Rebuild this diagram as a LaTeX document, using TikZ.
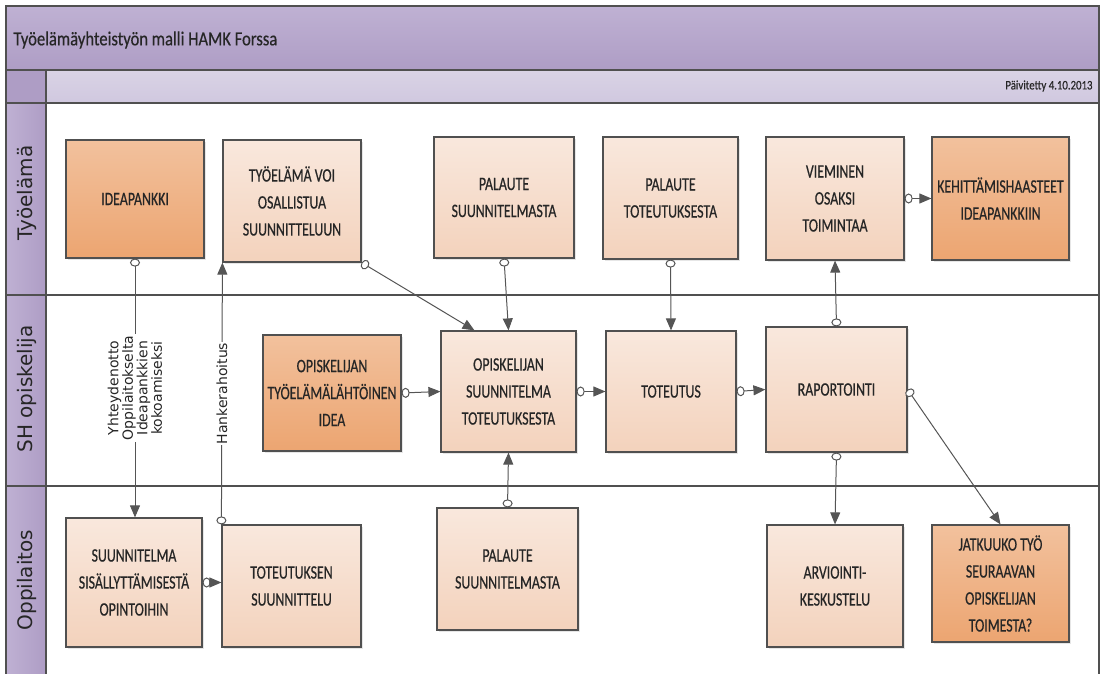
\documentclass[tikz,border=0pt]{standalone}
\usepackage{fontspec}
\setmainfont{Carlito}
\newfontfamily\laatikkofont{Carlito}[FakeStretch=0.73,FakeBold=0.5]
\newfontfamily\otsikkofont{Carlito}[FakeStretch=0.83,FakeBold=0.4]
\newfontfamily\kaistafont{DejaVu Sans}
\usetikzlibrary{arrows.meta,shadows}

\definecolor{violetti}{HTML}{AE9DC5}
\definecolor{violettivaalea}{HTML}{BFB1D3}
\definecolor{harmaaviol}{HTML}{D0C8DF}
\definecolor{reuna}{HTML}{505050}
\definecolor{viiva}{HTML}{555555}
\definecolor{teksti}{HTML}{262626}
\definecolor{vaaleaYla}{HTML}{F9E8DD}
\definecolor{vaaleaAla}{HTML}{F3D2BC}
\definecolor{tummaYla}{HTML}{F2C19D}
\definecolor{tummaAla}{HTML}{ECA571}

\begin{document}
\begin{tikzpicture}[x=1pt,y=-1pt,
    laatikko/.style={draw=reuna, line width=1.2pt, minimum width=138pt, minimum height=122pt,
      align=center, inner sep=0pt, text=teksti,
      font=\laatikkofont\fontsize{19}{27}\selectfont,
      drop shadow={opacity=0.2, shadow xshift=2pt, shadow yshift=-2pt}},
    vaalea/.style={laatikko, top color=vaaleaYla, bottom color=vaaleaAla},
    tumma/.style={laatikko, top color=tummaYla, bottom color=tummaAla},
    nuoli/.style={draw=viiva, line width=1pt,
      {Circle[open,fill=white,length=8pt,width=10pt,line width=1pt]}-{Triangle[length=12pt,width=10pt]}},
    kaista/.style={font=\kaistafont\fontsize{20}{24}\selectfont, rotate=90, text=teksti},
    selite/.style={font=\kaistafont\fontsize{14}{14.5}\selectfont, rotate=90,
      fill=white, align=center, inner sep=1pt, text=teksti}
  ]
  \useasboundingbox (0,0) rectangle (1103,674);

  % === Otsikko ja kaistat ===
  \shade[top color=violettivaalea, bottom color=violetti] (6,6) rectangle (1099,70);
  \fill[violetti] (6,70) rectangle (46,103);
  \shade[top color=harmaaviol!80!white, bottom color=harmaaviol] (46,70) rectangle (1099,103);
  \shade[left color=violettivaalea, right color=violetti] (6,103) rectangle (46,674);
  \draw[reuna, line width=1.3pt] (6,674) -- (6,6) -- (1099,6) -- (1099,674);
  \draw[reuna, line width=1.3pt] (6,70) -- (1099,70) (6,103) -- (1099,103) (46,70) -- (46,674);
  \draw[reuna, line width=1.3pt] (6,295) -- (1099,295) (6,486) -- (1099,486);

  \node[anchor=west, font=\otsikkofont\fontsize{20}{24}\selectfont, text=teksti] (otsikko) at (10,40)
    {Työelämäyhteistyön malli HAMK Forssa};
  \node[anchor=east, font=\otsikkofont\fontsize{13}{16}\selectfont, text=teksti] (pvm) at (1096,86)
    {Päivitetty 4.10.2013};

  \node[kaista] (k1) at (27,193) {Työelämä};
  \node[kaista] (k2) at (27,389) {SH opiskelija};
  \node[kaista] (k3) at (27,580) {Oppilaitos};

  % === Työelämä ===
  \node[tumma, minimum height=118pt] (idea) at (135,199) {IDEAPANKKI};
  \node[vaalea] (osall) at (292,201) {TYÖELÄMÄ VOI\\OSALLISTUA\\SUUNNITTELUUN};
  \node[vaalea, minimum width=140pt, minimum height=121pt] (palsuun) at (504,197.5) {PALAUTE\\SUUNNITELMASTA};
  \node[vaalea, minimum width=135pt] (paltot) at (670.5,198) {PALAUTE\\TOTEUTUKSESTA};
  \node[vaalea, minimum height=123pt] (viem) at (835,198.5) {VIEMINEN\\OSAKSI\\TOIMINTAA};
  \node[tumma, minimum width=137pt, minimum height=123pt] (kehit) at (1000.5,198.5) {KEHITTÄMISHAASTEET\\IDEAPANKKIIN};

  % === SH opiskelija ===
  \node[tumma, minimum height=116pt] (opidea) at (332,393) {OPISKELIJAN\\TYÖELÄMÄLÄHTÖINEN\\IDEA};
  \node[vaalea, minimum width=135pt, minimum height=121pt] (opsuun) at (508.5,391.5) {OPISKELIJAN\\SUUNNITELMA\\TOTEUTUKSESTA};
  \node[vaalea, minimum width=130pt, minimum height=121pt] (tot) at (671,391.5) {TOTEUTUS};
  \node[vaalea, minimum width=141pt, minimum height=125pt] (rap) at (836.5,389.5) {RAPORTOINTI};

  % === Oppilaitos ===
  \node[vaalea, minimum width=136pt, minimum height=129pt] (sisal) at (134,582.5) {SUUNNITELMA\\SISÄLLYTTÄMISESTÄ\\OPINTOIHIN};
  \node[vaalea, minimum width=139pt] (totsuun) at (291.5,586) {TOTEUTUKSEN\\SUUNNITTELU};
  \node[vaalea, minimum width=141pt] (palsuun2) at (507.5,569) {PALAUTE\\SUUNNITELMASTA};
  \node[vaalea, minimum width=136pt] (arv) at (835,586) {ARVIOINTI-\\KESKUSTELU};
  \node[tumma, minimum width=137pt, minimum height=117pt] (jatk) at (1000.5,583.5) {JATKUUKO TYÖ\\SEURAAVAN\\OPISKELIJAN\\TOIMESTA?};

  % === Nuolet ===
  \draw[nuoli] (idea.south) -- (idea.south |- sisal.north)
    node[selite, midway] {Yhteydenotto\\Oppilaitokselta\\Ideapankkien\\kokoamiseksi};
  \draw[nuoli] (totsuun.north west) -- (osall.south west)
    node[selite, midway] {Hankerahoitus};
  \draw[nuoli] (osall.south east) -- ([xshift=-34pt]opsuun.north);
  \draw[nuoli] (palsuun.south) -- (opsuun.north);
  \draw[nuoli] (paltot.south) -- (tot.north);
  \draw[nuoli] (rap.north) -- (viem.south);
  \draw[nuoli] (viem.east) -- (kehit.west);
  \draw[nuoli] (opidea.east) -- (opsuun.west);
  \draw[nuoli] (opsuun.east) -- (tot.west);
  \draw[nuoli] (tot.east) -- (rap.west);
  \draw[nuoli] (rap.south) -- (arv.north);
  \draw[nuoli] (rap.east) -- (jatk.north);
  \draw[nuoli] (palsuun2.north) -- (opsuun.south);
  \draw[nuoli] (sisal.east) -- (sisal.east -| totsuun.west);

\end{tikzpicture}
\end{document}
